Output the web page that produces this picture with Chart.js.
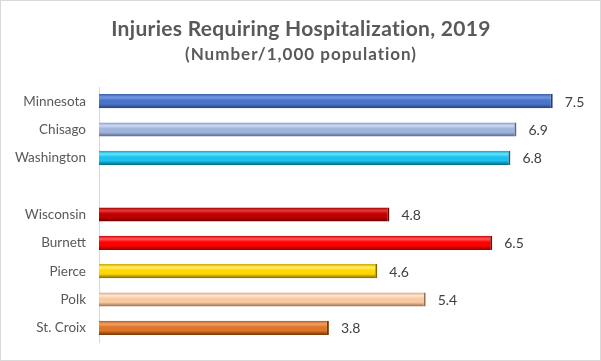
<!DOCTYPE html>
<html><head><meta charset="utf-8">
<script src="https://cdn.jsdelivr.net/npm/chart.js@4"></script>
<style>
html,body{margin:0;padding:0;background:#fff;}
#wrap{position:relative;width:601px;height:361px;}
#frame{position:absolute;left:0;top:0;width:599px;height:359px;border:1px solid #d9d9d9;pointer-events:none;}
</style></head>
<body><div id="wrap"><canvas id="c" width="601" height="361"></canvas><div id="frame"></div></div>
<script>
const categories = ['Minnesota','Chisago','Washington','','Wisconsin','Burnett','Pierce','Polk','St. Croix'];
const values = [7.5, 6.9, 6.8, null, 4.8, 6.5, 4.6, 5.4, 3.8];
// [edge, highlight, body, shadow]
const barColors = [
  ['#3d62ad','#7299e4','#4a74c8','#26407a'],
  ['#8598c4','#cad8f2','#a0b3dc','#56668c'],
  ['#0ca2ca','#66e4ff','#1cc2ee','#066a88'],
  ['#000','#000','#000','#000'],
  ['#a00000','#e63a3a','#c00000','#640000'],
  ['#d00000','#ff5a5a','#ff0000','#960000'],
  ['#d0aa00','#fff070','#ffd800','#846600'],
  ['#d4a682','#ffe4cc','#f8c8a0','#946c4e'],
  ['#b65818','#f2a264','#e07428','#763806']
];
const titleText = 'Injuries Requiring Hospitalization, 2019';
const subtitleText = '(Number/1,000 population)';

function gradFor(ctx){
  const chart = ctx.chart;
  const i = ctx.dataIndex;
  const c = barColors[i] || barColors[0];
  const ys = chart.scales.y;
  if(!ys || ys.top === undefined) return c[2];
  const y = ys.getPixelForValue(i);
  const h = 7;
  const g = chart.ctx.createLinearGradient(0, y-h, 0, y+h);
  g.addColorStop(0, c[0]);
  g.addColorStop(0.22, c[1]);
  g.addColorStop(0.45, c[2]);
  g.addColorStop(0.7, c[2]);
  g.addColorStop(1, c[3]);
  return g;
}

const valueLabels = {
  id:'valueLabels',
  afterDatasetsDraw(chart){
    const ctx = chart.ctx;
    const meta = chart.getDatasetMeta(0);
    ctx.save();
    ctx.font = '14px Lato';
    ctx.fillStyle = '#404040';
    ctx.textAlign = 'left';
    ctx.textBaseline = 'middle';
    meta.data.forEach((el,i)=>{
      const v = chart.data.datasets[0].data[i];
      if(v===null||v===undefined) return;
      ctx.fillText(v.toFixed(1), el.x + 12, el.y + 1);
    });
    ctx.restore();
  }
};

const titles = {
  id:'titles',
  afterDraw(chart){
    const ctx = chart.ctx;
    ctx.save();
    ctx.fillStyle = '#595959';
    ctx.textAlign = 'center';
    ctx.textBaseline = 'alphabetic';
    ctx.font = 'bold 21px Lato';
    ctx.letterSpacing = '0.3px';
    ctx.fillText(titleText, 301, 36);
    ctx.font = 'bold 17px Lato';
    ctx.letterSpacing = '1px';
    ctx.fillText(subtitleText, 301, 60);
    ctx.restore();
  }
};

new Chart(document.getElementById('c'), {
  type:'bar',
  data:{labels:categories, datasets:[{
    data:values,
    backgroundColor:gradFor,
    borderColor:(ctx)=> (barColors[ctx.dataIndex]||barColors[0])[3],
    borderWidth:{top:0,bottom:0,left:0,right:2},
    borderSkipped:false,
    barPercentage:0.5,
    categoryPercentage:1
  }]},
  options:{
    indexAxis:'y',
    responsive:false,
    animation:false,
    devicePixelRatio:1,
    layout:{padding:{left:0,right:18,top:87,bottom:19}},
    plugins:{
      legend:{display:false},
      tooltip:{enabled:false},
      title:{display:false},
      subtitle:{display:false}
    },
    scales:{
      x:{display:false,min:0,max:8},
      y:{
        grid:{display:false},
        border:{display:true,color:'#d9d9d9',width:1},
        ticks:{color:'#595959',font:{family:'Lato',size:13.5},padding:5},
        afterFit(s){ s.width = 99; }
      }
    }
  },
  plugins:[valueLabels, titles]
});
</script></body></html>
